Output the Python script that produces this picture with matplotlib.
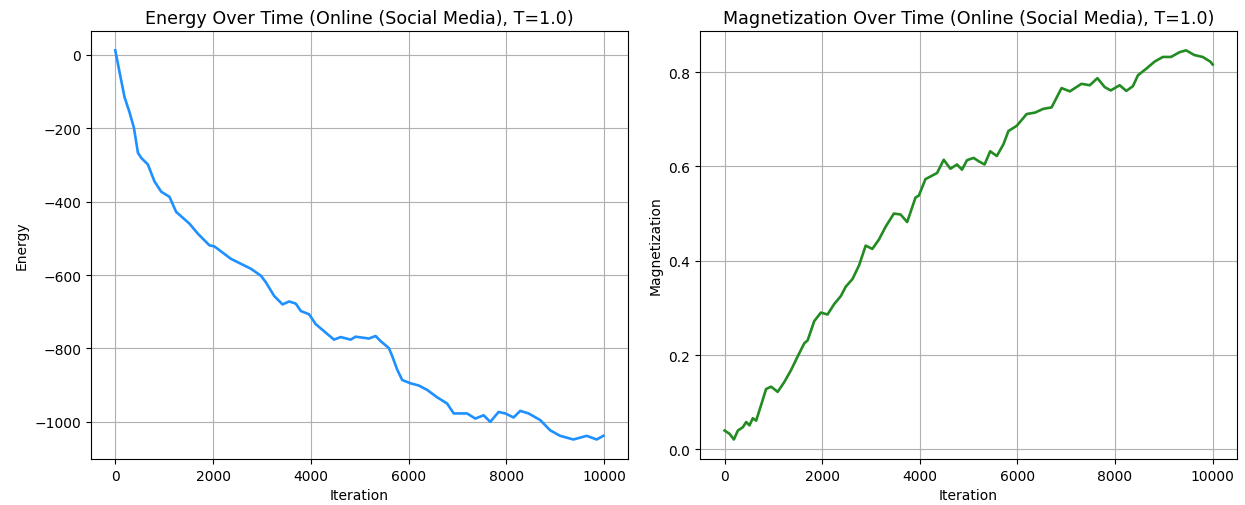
import matplotlib
matplotlib.use("Agg")
import matplotlib.pyplot as plt

# Energy trace of the Ising opinion model (online / social media, T=1.0)
energy_iter = [0, 88, 190, 292, 381, 463, 531, 667, 802, 939, 1108, 1245, 1517,
               1687, 1925, 2027, 2367, 2776, 2980, 3082, 3251, 3422, 3558, 3694,
               3796, 3966, 4102, 4271, 4476, 4612, 4816, 4918, 5190, 5327, 5429,
               5598, 5667, 5769, 5871, 6041, 6211, 6381, 6585, 6789, 6925, 7197,
               7367, 7537, 7673, 7843, 7980, 8150, 8286, 8456, 8694, 8898, 9102,
               9374, 9646, 9850, 9986]
energy = [12, -48, -116, -157, -199, -267, -281, -299, -345, -373, -387, -428,
          -460, -487, -519, -522, -556, -583, -602, -620, -657, -680, -672, -678,
          -698, -707, -734, -753, -776, -769, -776, -768, -773, -766, -780, -799,
          -821, -858, -886, -895, -901, -913, -933, -950, -977, -977, -991, -982,
          -1000, -973, -977, -988, -970, -977, -995, -1023, -1038, -1048, -1038,
          -1048, -1038]

# Magnetization trace for the same run
mag_iter = [0, 102, 190, 272, 374, 442, 510, 578, 646, 748, 850, 953, 1088, 1224,
            1361, 1497, 1633, 1701, 1837, 1973, 2109, 2245, 2381, 2483, 2619,
            2755, 2891, 3027, 3163, 3299, 3469, 3606, 3741, 3912, 3980, 4116,
            4354, 4490, 4626, 4762, 4864, 4966, 5102, 5204, 5327, 5442, 5578,
            5714, 5816, 5986, 6190, 6361, 6531, 6700, 6904, 7075, 7312, 7483,
            7639, 7789, 7912, 8095, 8231, 8367, 8469, 8639, 8810, 8980, 9149,
            9320, 9456, 9626, 9796, 9952, 10000]
magnetization = [0.040, 0.033, 0.021, 0.040, 0.047, 0.058, 0.051, 0.066, 0.061,
                 0.094, 0.128, 0.133, 0.122, 0.143, 0.168, 0.197, 0.225, 0.231,
                 0.272, 0.290, 0.286, 0.308, 0.325, 0.345, 0.361, 0.390, 0.432,
                 0.425, 0.445, 0.472, 0.500, 0.498, 0.482, 0.534, 0.538, 0.573,
                 0.586, 0.614, 0.595, 0.604, 0.593, 0.613, 0.618, 0.611, 0.604,
                 0.632, 0.622, 0.647, 0.675, 0.686, 0.711, 0.714, 0.722, 0.725,
                 0.766, 0.759, 0.775, 0.772, 0.787, 0.768, 0.761, 0.772, 0.760,
                 0.770, 0.793, 0.807, 0.822, 0.832, 0.832, 0.842, 0.846, 0.836,
                 0.832, 0.822, 0.816]

x_ticks = [0, 2000, 4000, 6000, 8000, 10000]

fig, (ax1, ax2) = plt.subplots(1, 2, figsize=(12.45, 5.06), dpi=100)
fig.subplots_adjust(left=0.073, right=0.9936, top=0.937, bottom=0.091, wspace=0.135)

ax1.plot(energy_iter, energy, color="#1E90FF", linewidth=1.9)
ax1.set_title("Energy Over Time (Online (Social Media), T=1.0)", fontsize=12.6)
ax1.set_xlabel("Iteration")
ax1.set_ylabel("Energy")
ax1.set_xticks(x_ticks)
ax1.grid(True)

ax2.plot(mag_iter, magnetization, color="forestgreen", linewidth=1.9)
ax2.set_title("Magnetization Over Time (Online (Social Media), T=1.0)", fontsize=12.6)
ax2.set_xlabel("Iteration")
ax2.set_ylabel("Magnetization")
ax2.set_xticks(x_ticks)
ax2.grid(True)

fig.savefig("out.png", dpi=100)
